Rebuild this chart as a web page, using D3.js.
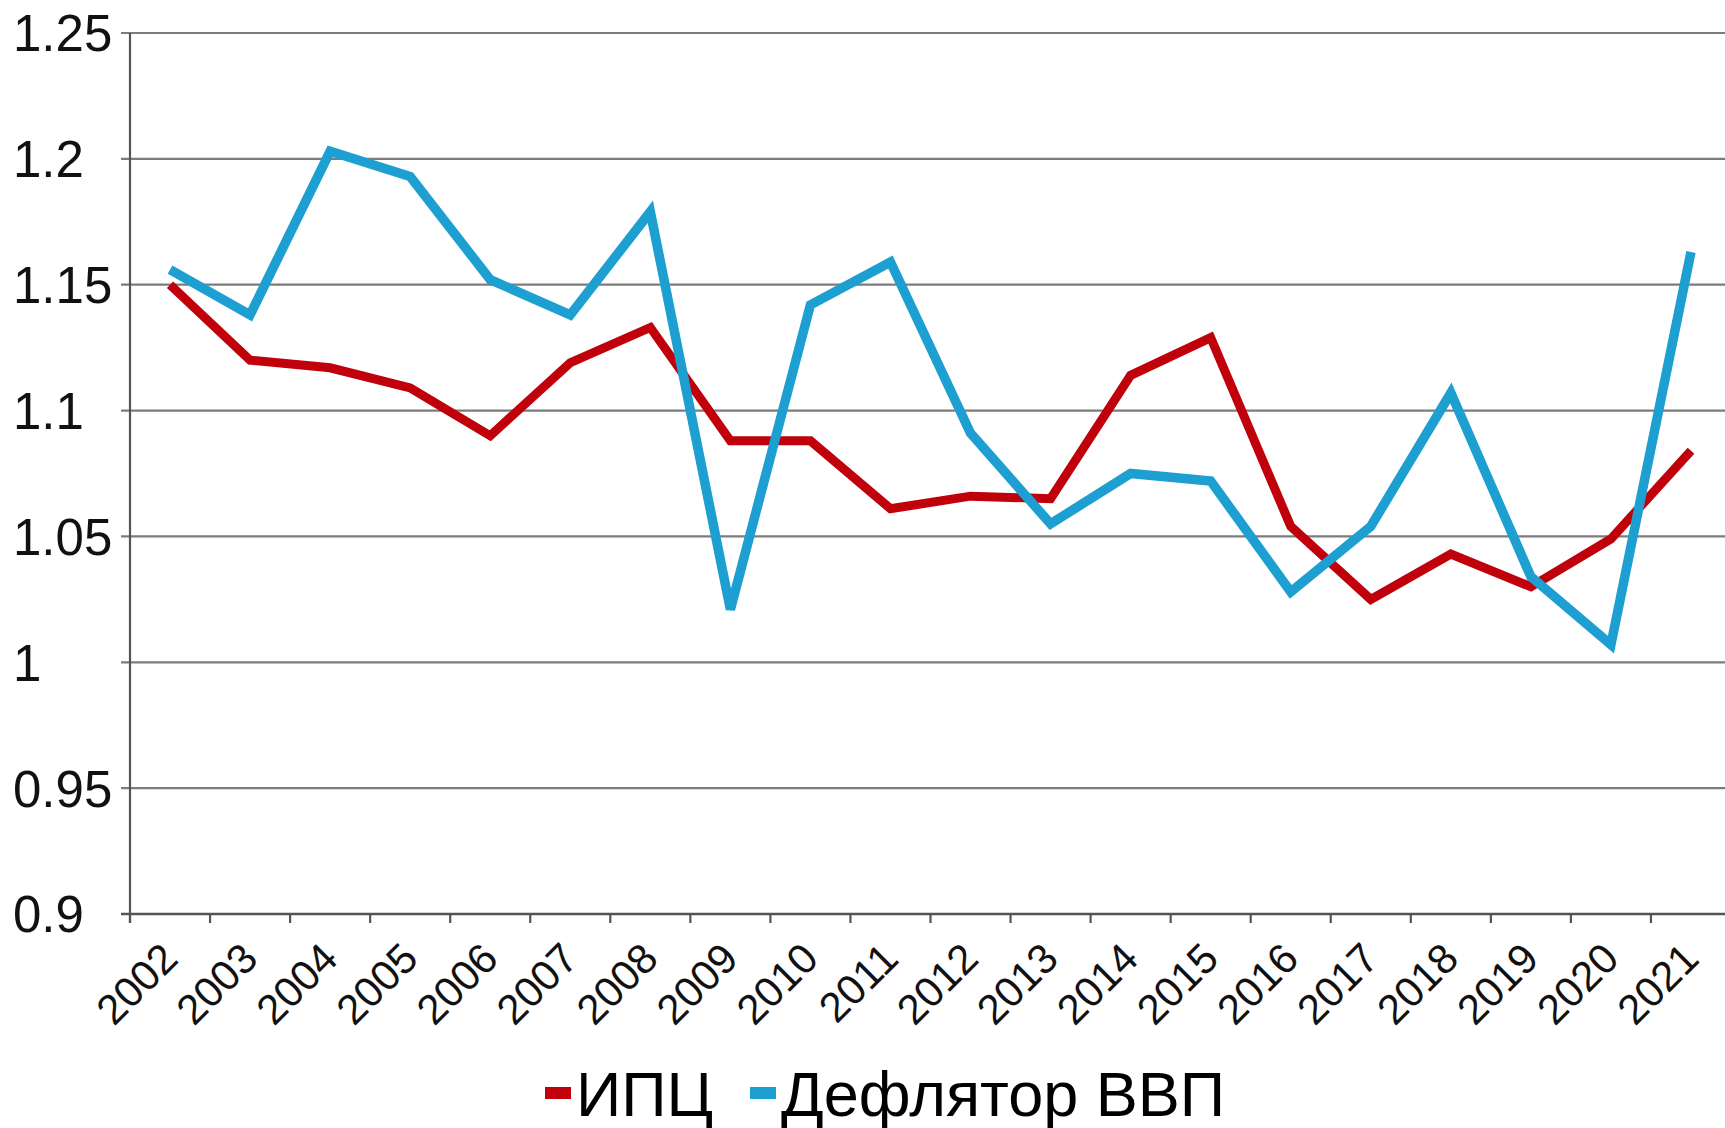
<!DOCTYPE html>
<html lang="ru">
<head>
<meta charset="UTF-8">
<title>ИПЦ и дефлятор ВВП</title>
<script src="https://d3js.org/d3.v7.min.js"></script>
<style>
  html, body { margin: 0; padding: 0; background: #fff; overflow: hidden; }
  svg { display: block; font-family: "Liberation Sans", Arial, sans-serif; }
</style>
</head>
<body>
<svg id="chart" width="1725" height="1128"></svg>
<script>
// data
let years = ['2002','2003','2004','2005','2006','2007','2008','2009','2010','2011',
             '2012','2013','2014','2015','2016','2017','2018','2019','2020','2021']
let cpi = [1.150, 1.120, 1.117, 1.109, 1.090, 1.119, 1.133, 1.088, 1.088, 1.061,
           1.066, 1.065, 1.114, 1.129, 1.054, 1.025, 1.043, 1.030, 1.049, 1.084]
let deflator = [1.156, 1.138, 1.203, 1.193, 1.152, 1.138, 1.179, 1.021, 1.142, 1.159,
                1.091, 1.055, 1.075, 1.072, 1.028, 1.054, 1.107, 1.034, 1.007, 1.163]
let yTicks = [0.9, 0.95, 1, 1.05, 1.1, 1.15, 1.2, 1.25]
let seriesNames = ['ИПЦ', 'Дефлятор ВВП']

let W = 1725
let plotLeft = 130, plotRight = 1731, plotTop = 33, plotBottom = 914

let svg = d3.select('#chart')

let x = d3.scaleBand().domain(years).range([plotLeft, plotRight]).padding(0)
let y = d3.scaleLinear().domain([0.9, 1.25]).range([plotBottom, plotTop])

// gridlines
svg.append('g')
   .selectAll('line')
   .data(yTicks.filter(d => d > 0.9))
   .enter()
   .append('line')
   .attr('x1', plotLeft - 9)
   .attr('x2', W)
   .attr('y1', d => y(d))
   .attr('y2', d => y(d))
   .attr('stroke', '#7c7c7c')
   .attr('stroke-width', 2.2)

// y axis labels (left aligned like the original)
svg.append('g')
   .selectAll('text')
   .data(yTicks)
   .enter()
   .append('text')
   .attr('x', 13)
   .attr('y', d => y(d))
   .attr('dy', '0.36em')
   .attr('text-anchor', 'start')
   .attr('font-size', 51)
   .attr('fill', '#111')
   .text(d => d3.format('')(d))

// axes
svg.append('line')
   .attr('x1', plotLeft).attr('x2', plotLeft)
   .attr('y1', plotTop).attr('y2', plotBottom + 9)
   .attr('stroke', '#555').attr('stroke-width', 2.2)
svg.append('line')
   .attr('x1', plotLeft - 9).attr('x2', W)
   .attr('y1', plotBottom).attr('y2', plotBottom)
   .attr('stroke', '#555').attr('stroke-width', 2.5)

// x ticks between categories
svg.append('g')
   .selectAll('line')
   .data(years)
   .enter()
   .append('line')
   .attr('x1', d => x(d)).attr('x2', d => x(d))
   .attr('y1', plotBottom).attr('y2', plotBottom + 9)
   .attr('stroke', '#555').attr('stroke-width', 2.2)

// x labels, rotated
svg.append('g')
   .selectAll('text')
   .data(years)
   .enter()
   .append('text')
   .attr('transform', d => 'translate(' + (x(d) + x.bandwidth() / 2 + 10) + ',961) rotate(-45)')
   .attr('text-anchor', 'end')
   .attr('font-size', 42)
   .attr('fill', '#111')
   .text(d => d)

let line = d3.line()
   .x((d, i) => x(years[i]) + x.bandwidth() / 2)
   .y(d => y(d))

svg.append('path')
   .datum(cpi)
   .attr('d', line)
   .attr('fill', 'none')
   .attr('stroke', '#c0000a')
   .attr('stroke-width', 9)
   .attr('stroke-linejoin', 'miter')

svg.append('path')
   .datum(deflator)
   .attr('d', line)
   .attr('fill', 'none')
   .attr('stroke', '#1d9fd2')
   .attr('stroke-width', 9.5)
   .attr('stroke-linejoin', 'miter')

// legend
let legend = svg.append('g')
let colors = ['#c0000a', '#1d9fd2']
let legX = [545, 750]
seriesNames.forEach((name, i) => {
    legend.append('rect')
       .attr('x', legX[i]).attr('y', 1087)
       .attr('width', 26).attr('height', 12)
       .attr('fill', colors[i])
    legend.append('text')
       .attr('x', legX[i] + 31).attr('y', 1116)
       .attr('font-size', 63)
       .attr('fill', '#000')
       .text(name)
})
</script>
</body>
</html>
